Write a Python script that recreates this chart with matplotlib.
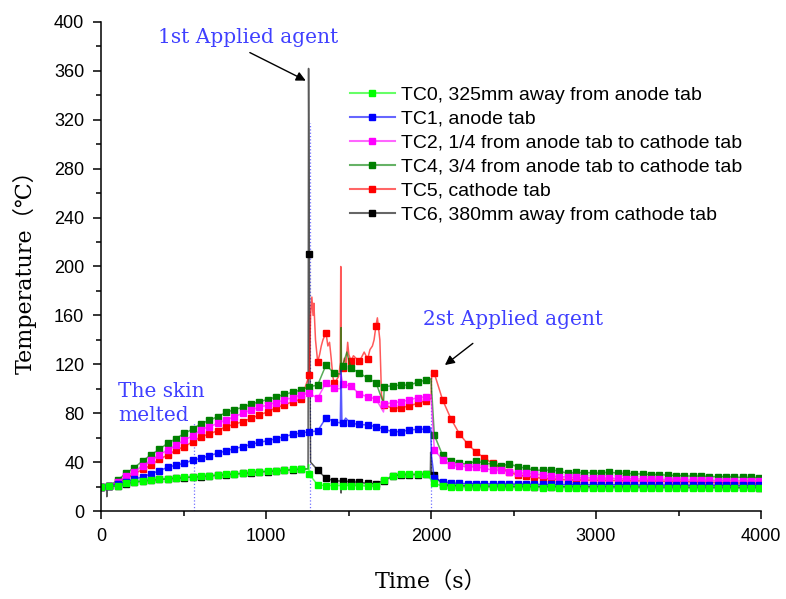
import numpy as np
import matplotlib
matplotlib.use('Agg')
import matplotlib.pyplot as plt
from matplotlib.lines import Line2D

plt.rcParams['font.family'] = ['Liberation Sans', 'DejaVu Sans']

# time base of the logged points (s), one marker each
t_k = np.arange(80) * 50.5

tc0 = [20.0, 20.4, 20.8, 22.6, 24.0, 24.5, 25.5, 26.0, 26.5, 27.0,
       27.5, 28.0, 28.3, 28.8, 29.5, 30.0, 30.3, 31.0, 31.5, 32.2,
       32.5, 33.0, 33.5, 34.0, 34.3, 30.0, 21.3, 20.8, 20.8, 20.8,
       20.8, 20.6, 20.5, 20.3, 25.4, 28.9, 30.0, 30.0, 30.0, 30.3,
       22.6, 20.4, 20.0, 19.8, 19.8, 19.6, 19.5, 19.5, 19.4, 19.5,
       19.3, 19.4, 19.3, 19.2, 19.3, 19.2, 19.1, 19.2, 19.1, 19.0,
       19.1, 19.0, 19.0, 18.9, 19.0, 18.9, 18.9, 18.8, 18.9, 18.8,
       18.8, 18.7, 18.8, 18.7, 18.7, 18.7, 18.6, 18.7, 18.6, 18.6]
tc1 = [20.0, 20.4, 21.8, 24.0, 25.9, 28.1, 30.3, 33.0, 35.7, 37.6,
       39.0, 41.7, 43.0, 45.4, 47.2, 49.3, 51.0, 52.6, 54.5, 56.2,
       57.5, 59.2, 60.8, 62.7, 63.8, 64.9, 65.4, 76.3, 73.1, 71.7,
       71.7, 70.9, 70.3, 69.0, 66.8, 64.9, 64.9, 66.3, 66.8, 67.0,
       26.7, 24.0, 23.2, 22.6, 22.4, 22.3, 22.2, 22.2, 22.1, 22.0,
       22.0, 21.9, 21.9, 21.8, 21.8, 21.7, 21.7, 21.6, 21.6, 21.5,
       21.5, 21.5, 21.4, 21.4, 21.3, 21.3, 21.3, 21.2, 21.2, 21.2,
       21.1, 21.1, 21.1, 21.0, 21.0, 21.0, 21.0, 20.9, 20.9, 20.9]
tc2 = [20.0, 20.4, 24.0, 28.3, 32.3, 37.0, 41.5, 46.0, 50.0, 54.0,
       58.0, 61.5, 66.5, 69.0, 71.7, 74.4, 77.2, 79.9, 82.6, 84.8,
       86.7, 88.6, 90.8, 92.8, 95.0, 96.3, 92.2, 105.0, 100.3, 103.6,
       102.2, 95.7, 93.5, 91.6, 87.5, 88.6, 89.4, 90.8, 92.7, 93.5,
       50.0, 42.0, 37.6, 36.8, 36.3, 36.3, 34.9, 33.5, 33.5, 32.2,
       31.4, 30.8, 30.5, 29.4, 29.0, 28.1, 27.8, 27.5, 27.2, 27.0,
       27.0, 26.8, 26.6, 26.5, 26.3, 26.1, 26.0, 25.8, 25.7, 25.5,
       25.4, 25.2, 25.1, 25.0, 24.8, 24.7, 24.6, 24.5, 24.4, 24.3]
tc4 = [20.0, 20.4, 25.4, 30.8, 35.5, 41.0, 46.0, 50.5, 55.4, 59.2,
       63.5, 67.0, 71.5, 74.2, 77.2, 80.6, 82.9, 84.8, 87.4, 89.4,
       91.2, 93.3, 95.3, 97.2, 99.0, 101.7, 103.0, 119.4, 112.6, 118.9,
       116.7, 113.1, 108.5, 105.0, 101.7, 102.5, 103.0, 103.0, 105.3, 107.2,
       62.2, 45.5, 40.6, 39.0, 38.4, 41.0, 39.0, 38.4, 36.8, 38.5,
       36.3, 35.0, 33.5, 33.3, 33.5, 32.7, 30.8, 31.5, 31.3, 31.3,
       30.8, 32.0, 30.8, 30.8, 30.4, 30.3, 29.8, 29.8, 29.3, 29.0,
       28.8, 28.5, 28.7, 28.2, 28.0, 28.1, 27.8, 27.5, 27.6, 27.2]
tc5 = [20.0, 20.4, 23.4, 26.7, 30.3, 34.1, 37.6, 42.3, 45.8, 49.9,
       52.6, 56.7, 60.8, 63.0, 65.7, 69.0, 70.9, 73.1, 75.8, 78.5,
       81.2, 84.5, 86.7, 89.4, 91.4, 111.2, 122.1, 145.9, 104.4, 117.0,
       122.7, 122.4, 124.2, 151.6, 86.7, 84.0, 84.5, 85.9, 88.1, 90.2,
       112.6, 90.8, 75.4, 63.3, 54.8, 48.3, 43.4, 39.0, 35.0, 31.8,
       29.4, 28.4, 27.5, 26.7, 26.2, 25.9, 25.5, 25.4, 25.3, 25.2,
       25.1, 25.0, 24.9, 24.8, 24.7, 24.6, 24.5, 24.4, 24.3, 24.2,
       24.0, 23.8, 23.7, 23.5, 23.3, 23.2, 23.0, 22.8, 22.7, 22.5]
tc6 = [20.0, 20.2, 20.6, 22.4, 23.8, 24.3, 25.3, 25.8, 26.3, 26.8,
       27.3, 27.8, 28.1, 28.6, 29.3, 29.8, 30.1, 30.8, 31.3, 32.0,
       32.3, 32.8, 33.3, 33.8, 34.1, 210.0, 33.5, 26.7, 24.8, 24.5,
       24.0, 23.5, 22.6, 22.4, 24.8, 28.6, 29.8, 29.8, 29.8, 30.0,
       29.4, 21.5, 20.8, 20.6, 20.5, 20.4, 20.3, 20.3, 20.2, 20.2,
       20.1, 20.1, 20.0, 20.0, 20.0, 19.9, 19.9, 19.9, 19.8, 19.8,
       19.8, 19.7, 19.7, 19.7, 19.6, 19.6, 19.6, 19.5, 19.5, 19.5,
       19.5, 19.4, 19.4, 19.4, 19.4, 19.3, 19.3, 19.3, 19.3, 19.2]

# extra logged points between markers (line only)
tc0_ft = [1255, 1258]
tc0_fv = [34.5, 38.0]
tc1_ft = [1450, 1455, 1460, 1483, 1998, 2003]
tc1_fv = [72.0, 115.0, 73.0, 76.0, 68.0, 45.0]
tc2_ft = [1452, 1455, 1712, 2000]
tc2_fv = [100.0, 112.0, 81.0, 95.0]
tc4_ft = [1453, 1455, 1458, 1490, 1712, 2000]
tc4_fv = [112.0, 150.0, 115.0, 130.0, 88.0, 108.0]
tc5_ft = [1270, 1278, 1285, 1290, 1300, 1325, 1335, 1345, 1375, 1385, 1395, 1405,
          1440, 1450, 1453, 1456, 1475, 1485, 1495, 1502, 1530, 1545, 1580, 1595,
          1630, 1645, 1655, 1675, 1690, 1700, 2000, 2005]
tc5_fv = [160.0, 175.0, 160.0, 170.0, 140.0, 128.0, 135.0, 140.0, 135.0, 138.0, 125.0, 110.0,
          110.0, 120.0, 200.0, 118.0, 125.0, 120.0, 138.0, 128.0, 127.0, 125.0, 126.0, 130.0,
          132.0, 135.0, 140.0, 158.0, 140.0, 95.0, 92.0, 115.0]
tc6_ft = [34, 35, 36, 1255, 1258, 1270, 1453, 1455, 1457, 1996, 1998, 2004]
tc6_fv = [20.2, 11.7, 20.2, 34.5, 362.0, 40.0, 24.5, 14.7, 24.5, 30.0, 48.0, 31.0]

labels = ['TC0, 325mm away from anode tab',
          'TC1, anode tab',
          'TC2, 1/4 from anode tab to cathode tab',
          'TC4, 3/4 from anode tab to cathode tab',
          'TC5, cathode tab',
          'TC6, 380mm away from cathode tab']
colors = ['#00ff00', '#0000ff', '#ff00ff', '#008000', '#ff0000', '#000000']

series = [(tc0, tc0_ft, tc0_fv), (tc1, tc1_ft, tc1_fv), (tc2, tc2_ft, tc2_fv),
          (tc4, tc4_ft, tc4_fv), (tc5, tc5_ft, tc5_fv), (tc6, tc6_ft, tc6_fv)]

# dotted drop lines at the events
drop_t = [566, 1265, 2000]
drop_top = [73, 317, 115]

fig = plt.figure(figsize=(7.86, 5.99), dpi=100)
ax = fig.add_axes([0.1285, 0.1469, 0.8397, 0.8164])

ax.vlines(drop_t, 0, drop_top, colors='#7070ff', linestyles=':', lw=0.9, zorder=1)

# draw TC6 first, TC0 last (TC0 lies on top)
draw_order = [5, 4, 3, 2, 1, 0]
for i in draw_order:
    v, ft, fv = series[i]
    t_all = np.concatenate([t_k, ft])
    y_all = np.concatenate([v, fv])
    order = np.argsort(t_all, kind='stable')
    marks = np.where(order < len(t_k))[0]
    line_c = matplotlib.colors.to_rgba(colors[i], 0.65)
    ax.plot(t_all[order], y_all[order], color=line_c, lw=1.1,
            marker='s', ms=5.0, mfc=colors[i], mec=colors[i],
            markevery=list(marks), zorder=2 + (5 - i) * 0.1)

handles = [Line2D([], [], color=matplotlib.colors.to_rgba(c, 0.6), lw=1.5,
                  marker='s', ms=4.8, mfc=c, mec=c) for c in colors]
ax.legend(handles, labels, loc='upper left', bbox_to_anchor=(350 / 786, 1 - 86 / 599),
          bbox_transform=fig.transFigure, frameon=False, fontsize=14,
          handlelength=2.3, handletextpad=0.3, labelspacing=0.33,
          borderpad=0, borderaxespad=0, numpoints=1)

ax.set_xlim(0, 4000)
ax.set_ylim(0, 400)
ax.set_xticks([0, 1000, 2000, 3000, 4000])
ax.set_xticks([500, 1500, 2500, 3500], minor=True)
ax.set_yticks(np.arange(0, 401, 40))
ax.set_yticks(np.arange(20, 400, 40), minor=True)
ax.tick_params(which='major', direction='out', length=6, width=1.1, labelsize=13, pad=6)
ax.tick_params(which='minor', direction='out', length=3.5, width=1.1)
for s in ['top', 'right']:
    ax.spines[s].set_visible(False)
for s in ['left', 'bottom']:
    ax.spines[s].set_linewidth(1.1)

lab_font = ['DejaVu Serif', 'Noto Sans CJK SC']
ax.set_xlabel('Time（s）', fontsize=16, family=lab_font)
ax.set_ylabel('Temperature（℃）', fontsize=16, family=lab_font)
ax.xaxis.set_label_coords(0.5, -0.123)
ax.yaxis.set_label_coords(-0.097, 0.5)

ann_c = '#4040ff'
ax.text(894, 387, '1st Applied agent', color=ann_c, fontsize=14.5, family='DejaVu Serif',
        ha='center', va='center')
ax.annotate('', xy=(1256, 351), xytext=(887, 376),
            arrowprops=dict(arrowstyle='-|>', color='black', lw=1, mutation_scale=14))
ax.text(2497, 157, '2st Applied agent', color=ann_c, fontsize=14.5, family='DejaVu Serif',
        ha='center', va='center')
ax.annotate('', xy=(2071, 118), xytext=(2267, 138.5),
            arrowprops=dict(arrowstyle='-|>', color='black', lw=1, mutation_scale=14))
ax.text(103, 88, 'The skin\nmelted', color=ann_c, fontsize=14.5, family='DejaVu Serif',
        ha='left', va='center', linespacing=1.3)

fig.savefig('out.png', dpi=100)
